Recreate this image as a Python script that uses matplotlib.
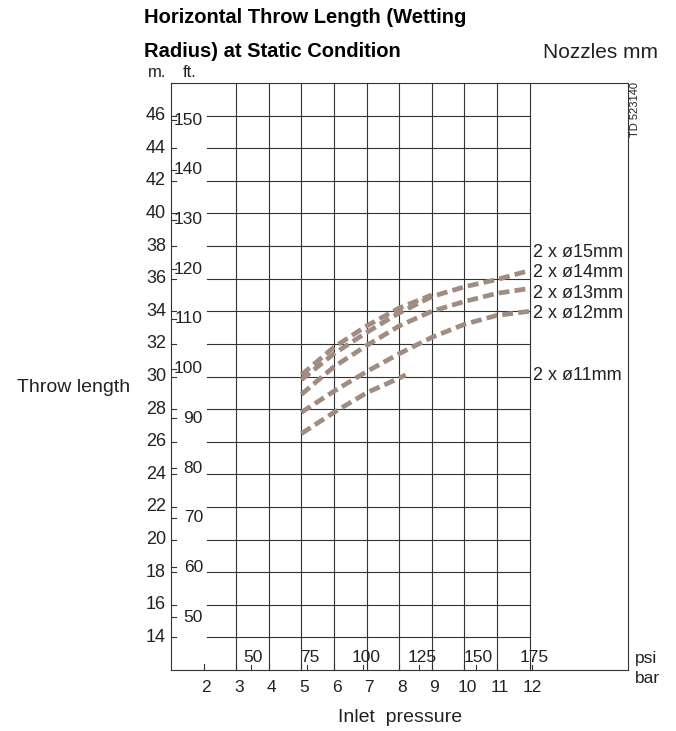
import matplotlib.pyplot as plt

plt.rcParams['font.family'] = ['Liberation Sans', 'DejaVu Sans']

W, H = 676, 731

# axis scales (bar bottom, psi inside, m left, ft inside)
bar_ticks = [2, 3, 4, 5, 6, 7, 8, 9, 10, 11, 12]
psi_ticks = [50, 75, 100, 125, 150, 175]
m_ticks = list(range(14, 48, 2))
ft_ticks = list(range(50, 160, 10))

# throw length curves: inlet pressure [bar] -> throw length [m]
nozzles = ['2 x ø15mm', '2 x ø14mm', '2 x ø13mm', '2 x ø12mm', '2 x ø11mm']
p15 = [5, 6, 7, 8, 9]
l15 = [30.1, 31.8, 33.1, 34.2, 35.0]
p14 = [5, 6, 7, 8, 9, 10, 11, 12]
l14 = [29.8, 31.4, 32.7, 33.9, 34.9, 35.5, 35.95, 36.5]
p13 = [5, 6, 7, 8, 9, 10, 11, 12]
l13 = [28.9, 30.6, 31.9, 33.1, 34.0, 34.6, 35.1, 35.4]
p12 = [5, 6, 7, 8, 9, 10, 11, 12]
l12 = [27.8, 29.1, 30.3, 31.4, 32.4, 33.2, 33.75, 34.0]
p11 = [5, 6, 7, 8, 8.2]
l11 = [26.5, 27.8, 29.0, 29.9, 30.1]

curve_color = '#a08c80'
grid_color = '#333333'
text_color = '#222222'


def fx(x):
    return x / W


def fy(y):
    return 1 - y / H


def main():
    fig = plt.figure(figsize=(W / 100, H / 100), dpi=100)

    # plot area in pixels: x 171..529.6 (1..12 bar), y 670..83 (12..48 m)
    x0, x1, y0, y1 = 171, 529.6, 670, 83
    ax = fig.add_axes([fx(x0), fy(y0), (x1 - x0) / W, (y0 - y1) / H])
    ax.set_xlim(1, 12)
    ax.set_ylim(12, 48)
    ax.axis('off')

    sx = (x1 - x0) / 11.0   # px per bar
    sy = (y0 - y1) / 36.0   # px per m
    xr = 1 + (628 - x0) / sx

    lk = dict(color=grid_color, lw=0.8, clip_on=False)

    # frame
    ax.plot([1, 1], [12, 48], **lk)
    ax.plot([1, xr], [48, 48], **lk)
    ax.plot([1, xr], [12, 12], **lk)
    ax.plot([xr, xr], [12, 48], **lk)

    # grid
    for b in bar_ticks[1:]:
        ax.plot([b, b], [12, 48], **lk)
    for m in m_ticks:
        ax.plot([1 + 36 / sx, 12], [m, m], **lk)

    # left ticks and labels
    for m in m_ticks:
        ax.plot([1, 1 + 5 / sx], [m, m], **lk)
        ax.text(1 - 5 / sx, m, str(m), ha='right', va='center',
                fontsize=13, color=text_color)
    for ft in ft_ticks:
        v = ft * 0.3048
        ax.plot([1, 1 + 5 / sx], [v, v], **lk)
        ax.text(1 + 32 / sx, v, str(ft), ha='right', va='center',
                fontsize=12.5, color=text_color)

    # bottom ticks and labels
    for b in bar_ticks:
        ax.plot([b, b], [12, 12 + 6 / sy], **lk)
        ax.text(b + 0.08, 12 - 22 / sy, str(b), ha='center', va='baseline',
                fontsize=12.5, color=text_color)
    for psi in psi_ticks:
        b = psi / 14.5038
        ax.plot([b, b], [12, 12 + 5 / sy], **lk)
        ax.text(b + 0.08, 12 + 8 / sy, str(psi), ha='center', va='baseline',
                fontsize=12.5, color=text_color)

    # curves
    ls = dict(color=curve_color, lw=3.4, linestyle=(0, (2.3, 1.1)),
              clip_on=False)
    ax.plot(p15, l15, **ls)
    ax.plot(p14, l14, **ls)
    ax.plot(p13, l13, **ls)
    ax.plot(p12, l12, **ls)
    ax.plot(p11, l11, **ls)

    # nozzle labels
    label_y = [257, 277, 298, 318, 380]
    for name, y in zip(nozzles, label_y):
        fig.text(fx(533), fy(y), name, ha='left', va='baseline',
                 fontsize=13, color=text_color)

    # titles and axis texts
    fig.text(fx(144), fy(23), 'Horizontal Throw Length (Wetting',
             fontsize=14.5, fontweight='bold', va='baseline')
    fig.text(fx(144), fy(57), 'Radius) at Static Condition',
             fontsize=14.5, fontweight='bold', va='baseline')
    fig.text(fx(543), fy(58), 'Nozzles mm', fontsize=15, ha='left',
             va='baseline', color=text_color)
    fig.text(fx(148), fy(77), 'm.', fontsize=12, va='baseline',
             color=text_color)
    fig.text(fx(183), fy(77), 'ft.', fontsize=12, va='baseline',
             color=text_color)
    fig.text(fx(130), fy(392), 'Throw length', fontsize=14, ha='right',
             va='baseline', color=text_color)
    fig.text(fx(400), fy(722), 'Inlet  pressure', fontsize=14,
             ha='center', va='baseline', color=text_color)
    fig.text(fx(635), fy(663), 'psi', fontsize=12.5, va='baseline',
             color=text_color)
    fig.text(fx(635), fy(683), 'bar', fontsize=12.5, va='baseline',
             color=text_color)
    fig.text(fx(635), fy(82), 'TD 523140', fontsize=8, rotation=90,
             ha='center', va='top', color=text_color)

    fig.savefig('out.png', dpi=100)


if __name__ == '__main__':
    main()
